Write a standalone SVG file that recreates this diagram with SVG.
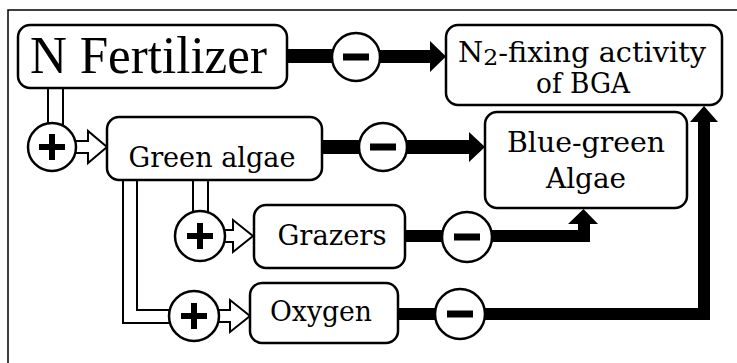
<svg xmlns="http://www.w3.org/2000/svg" width="737" height="363" viewBox="0 0 737 363">
<style>
.box{fill:#fff;stroke:#000;stroke-width:2.5}
.circ{fill:#fff;stroke:#000;stroke-width:2.5}
.hol{fill:#fff;stroke:#000;stroke-width:2;stroke-linejoin:miter}
.blk{fill:#000;stroke:none}
.lbl{font-family:"DejaVu Serif","Liberation Serif",serif;font-size:28px;fill:#000;text-anchor:middle}
.big{font-family:"Liberation Serif","DejaVu Serif",serif;font-size:52px;fill:#000;text-anchor:middle}
</style>
<rect width="737" height="363" fill="#fff"/>
<path d="M8,363 V10 H737" fill="none" stroke="#000" stroke-width="1.5"/>
<g id="connectors">
  <rect class="blk" x="287" y="49" width="47" height="14"/>
  <polygon class="blk" points="378,50 430,50 430,41 446,56.5 430,72 430,63 378,63"/>
  <rect class="hol" x="48" y="88" width="15" height="38"/>
  <polygon class="hol" points="74,141 88,141 88,131 107,147 88,163 88,153 74,153"/>
  <rect class="blk" x="322" y="140" width="39" height="14"/>
  <polygon class="blk" points="405,140 469,140 469,132 485,147 469,162 469,154 405,154"/>
  <rect class="hol" x="193" y="180" width="15" height="34"/>
  <polygon class="hol" points="223,230 233,230 233,220 253,236 233,252 233,242 223,242"/>
  <polygon class="hol" points="123,180 137,180 137,310 172,310 172,323 123,323"/>
  <polygon class="hol" points="217,310 230,310 230,300 250,316 230,332 230,322 217,322"/>
  <rect class="blk" x="405" y="230" width="40" height="12"/>
  <polygon class="blk" points="490,230 578,230 578,224 568,224 583.5,209 598,224 590,224 590,242 490,242"/>
  <rect class="blk" x="398" y="308" width="40" height="12"/>
  <polygon class="blk" points="483,308 698,308 698,122 690,122 704,106 718,122 710,122 710,320 483,320"/>
</g>
<g id="nfert">
  <rect class="box" x="18" y="25" width="269" height="63" rx="12"/>
  <text class="big" x="148.5" y="73" textLength="237" lengthAdjust="spacingAndGlyphs">N Fertilizer</text>
</g>
<g id="n2fix">
  <rect class="box" x="446" y="25" width="276" height="80" rx="12"/>
  <text class="lbl" x="582" y="62" font-size="27" textLength="248" lengthAdjust="spacingAndGlyphs">N<tspan font-size="23" dy="3">2</tspan><tspan dy="-3">-fixing activity</tspan></text>
  <text class="lbl" x="583" y="93" font-size="27" textLength="94" lengthAdjust="spacingAndGlyphs">of BGA</text>
</g>
<g id="greenalgae">
  <rect class="box" x="107" y="117" width="215" height="63" rx="12"/>
  <text class="lbl" x="212" y="167" textLength="167" lengthAdjust="spacingAndGlyphs">Green algae</text>
</g>
<g id="bluegreen">
  <rect class="box" x="485" y="112" width="202" height="96" rx="12"/>
  <text class="lbl" x="586" y="152" textLength="158" lengthAdjust="spacingAndGlyphs">Blue-green</text>
  <text class="lbl" x="586" y="188" textLength="80" lengthAdjust="spacingAndGlyphs">Algae</text>
</g>
<g id="grazers">
  <rect class="box" x="254" y="205" width="151" height="63" rx="12"/>
  <text class="lbl" x="332" y="245" textLength="109" lengthAdjust="spacingAndGlyphs">Grazers</text>
</g>
<g id="oxygen">
  <rect class="box" x="250" y="283" width="148" height="60" rx="12"/>
  <text class="lbl" x="321" y="321" textLength="102" lengthAdjust="spacingAndGlyphs">Oxygen</text>
</g>
<g id="minus1">
  <circle class="circ" cx="356" cy="57" r="24"/>
  <rect class="blk" x="343" y="53.5" width="26" height="7"/>
</g>
<g id="minus2">
  <circle class="circ" cx="383" cy="147" r="24"/>
  <rect class="blk" x="370" y="143.5" width="26" height="7"/>
</g>
<g id="minus3">
  <circle class="circ" cx="467" cy="237" r="25"/>
  <rect class="blk" x="454" y="233.5" width="26" height="7"/>
</g>
<g id="minus4">
  <circle class="circ" cx="460" cy="314" r="25"/>
  <rect class="blk" x="447" y="310.5" width="26" height="7"/>
</g>
<g id="plus1">
  <circle class="circ" cx="52" cy="147" r="24"/>
  <rect class="blk" x="39" y="144" width="26" height="6"/>
  <rect class="blk" x="49" y="134" width="6" height="26"/>
</g>
<g id="plus2">
  <circle class="circ" cx="200" cy="236" r="25"/>
  <rect class="blk" x="187" y="233" width="26" height="6"/>
  <rect class="blk" x="197" y="223" width="6" height="26"/>
</g>
<g id="plus3">
  <circle class="circ" cx="194" cy="316" r="25"/>
  <rect class="blk" x="181" y="313" width="26" height="6"/>
  <rect class="blk" x="191" y="303" width="6" height="26"/>
</g>
</svg>
